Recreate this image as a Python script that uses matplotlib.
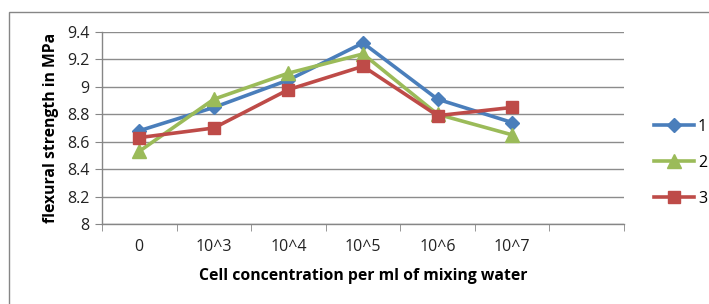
import matplotlib
matplotlib.use("Agg")
import matplotlib.pyplot as plt
from matplotlib.patches import Rectangle

categories = ["0", "10^3", "10^4", "10^5", "10^6", "10^7"]
series1 = [8.68, 8.85, 9.05, 9.32, 8.91, 8.74]
series2 = [8.53, 8.91, 9.10, 9.24, 8.80, 8.65]
series3 = [8.63, 8.70, 8.98, 9.15, 8.79, 8.85]
series_names = ["1", "2", "3"]
yticks = [8, 8.2, 8.4, 8.6, 8.8, 9, 9.2, 9.4]
ytick_labels = ["8", "8.2", "8.4", "8.6", "8.8", "9", "9.2", "9.4"]

plt.rcParams['font.family'] = ['Open Sans', 'DejaVu Sans']

fig = plt.figure(figsize=(7.09, 3.04), dpi=100)
fig.patches.append(Rectangle((9/709, -0.1), 1.0, 1.1 - 12/304, transform=fig.transFigure,
                             fill=False, edgecolor='#868686', linewidth=1.0))
ax = fig.add_axes([102/709, 1 - 224/304, (624-102)/709, (224-32)/304])

x = list(range(len(categories)))
ax.plot(x, series1, color='#4A7EBB', lw=2.6, marker='D', ms=7.5, label=series_names[0], zorder=3)
ax.plot(x, series2, color='#9BBB59', lw=2.6, marker='^', ms=10, label=series_names[1], zorder=3)
ax.plot(x, series3, color='#BE4B48', lw=2.6, marker='s', ms=9, label=series_names[2], zorder=3)

ax.set_xlim(-0.5, len(categories) + 0.5)
ax.set_ylim(8, 9.4)
ax.set_yticks(yticks)
ax.set_yticklabels(ytick_labels, fontsize=11.5, color='#222222')
ax.set_xticks(x)
ax.set_xticklabels(categories, fontsize=11.5, color='#222222')
ax.set_xticks([i - 0.5 for i in range(len(categories) + 2)], minor=True)
ax.tick_params(axis='x', which='major', length=0, pad=11)
ax.tick_params(axis='x', which='minor', length=5, color='#868686', direction='out')
ax.tick_params(axis='y', length=5, color='#868686', direction='out', pad=4)

ax.grid(axis='y', color='#8C8C8C', linewidth=1.0)
ax.set_axisbelow(True)
for s in ['top', 'right']:
    ax.spines[s].set_visible(False)
for s in ['left', 'bottom']:
    ax.spines[s].set_color('#868686')
    ax.spines[s].set_linewidth(1.0)

ax.set_ylabel("flexural strength in MPa", fontsize=11.3, fontweight='bold', labelpad=6)
ax.set_xlabel("Cell concentration per ml of mixing water", fontsize=11.3, fontweight='bold', labelpad=9)

leg = ax.legend(loc='center left', bbox_to_anchor=(1.03, 0.32), frameon=False,
                fontsize=11.5, handlelength=2.5, labelspacing=1.25, handletextpad=0.25)

fig.savefig("out.png", dpi=100)
